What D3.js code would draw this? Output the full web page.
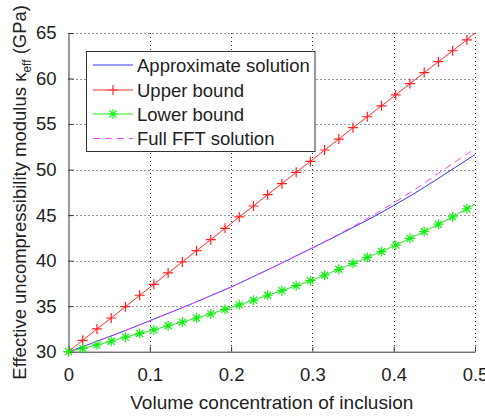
<!DOCTYPE html>
<html><head><meta charset="utf-8">
<script src="https://cdn.jsdelivr.net/npm/d3@7"></script>
<style>
body{margin:0;background:#fff;}
text{font-family:"Liberation Sans",Arial,sans-serif;fill:#222;}
</style></head>
<body><svg id="c" width="485" height="420"></svg>
<script>
// ---- data ----
const boundX = [0,0.0175,0.035,0.0525,0.07,0.0875,0.105,0.1225,0.14,0.1575,0.175,0.1925,0.21,0.2275,0.245,0.2625,0.28,0.2975,0.315,0.3325,0.35,0.3675,0.385,0.4025,0.42,0.4375,0.455,0.4725,0.49,0.5];
const upperBound = [30.0,31.25,32.5,33.7,34.95,36.2,37.4,38.65,39.85,41.1,42.3,43.55,44.8,46.0,47.25,48.45,49.7,50.9,52.15,53.35,54.6,55.8,57.0,58.2,59.45,60.65,61.85,63.05,64.25,65.0];
const lowerBound = [30.0,30.35,30.75,31.15,31.6,32.0,32.4,32.85,33.25,33.7,34.15,34.65,35.15,35.65,36.2,36.7,37.25,37.8,38.4,39.05,39.7,40.35,41.0,41.7,42.45,43.2,44.0,44.8,45.7,46.2];
const solX = [0,0.025,0.05,0.075,0.1,0.125,0.15,0.175,0.2,0.225,0.25,0.275,0.3,0.325,0.35,0.375,0.4,0.425,0.45,0.475,0.5];
const approxSol = [30.0,30.8,31.65,32.5,33.4,34.3,35.2,36.15,37.1,38.15,39.2,40.3,41.4,42.5,43.65,44.8,46.05,47.35,48.75,50.2,51.65];
const fftSol = [30.0,30.8,31.65,32.5,33.4,34.3,35.2,36.15,37.1,38.15,39.2,40.3,41.4,42.55,43.75,45.0,46.35,47.75,49.3,50.8,52.3];
const xTicks = [0,0.1,0.2,0.3,0.4,0.5];
const xTickLabels = ["0","0.1","0.2","0.3","0.4","0.5"];
const yTicks = [30,35,40,45,50,55,60,65];
const legendLabels = ["Approximate solution","Upper bound","Lower bound","Full FFT solution"];

const svg = d3.select("#c");
const L=68.5, R=475, T=33, B=351.7;
const x = d3.scaleLinear().domain([0,0.5]).range([L,R]);
const y = d3.scaleLinear().domain([30,65]).range([B,T]);
const FS = 18.5;

// grid (dotted)
const grid = svg.append("g").attr("stroke","#333").attr("stroke-width",1).attr("stroke-dasharray","1,3");
grid.selectAll("line.v").data(xTicks.slice(1)).join("line")
  .attr("x1",d=>Math.round(x(d))+0.5).attr("x2",d=>Math.round(x(d))+0.5).attr("y1",T).attr("y2",B);
grid.selectAll("line.h").data(yTicks.slice(1)).join("line")
  .attr("y1",d=>Math.round(y(d))+0.5).attr("y2",d=>Math.round(y(d))+0.5).attr("x1",L).attr("x2",R);

// axes
const xAxis = d3.axisBottom(x).tickValues(xTicks).tickFormat((d,i)=>xTickLabels[i]).tickSizeInner(-5).tickSizeOuter(0).tickPadding(16);
const gx = svg.append("g").attr("transform",`translate(0,${B})`).call(xAxis);
const yAxis = d3.axisLeft(y).tickValues(yTicks).tickSizeInner(-5).tickSizeOuter(0).tickPadding(12);
const gy = svg.append("g").attr("transform",`translate(${L},0)`).call(yAxis);
[gx,gy].forEach(g=>{
  g.select(".domain").attr("stroke","#333");
  g.selectAll(".tick line").attr("stroke","#333");
  g.selectAll("text").attr("font-size",FS).attr("font-family","Liberation Sans, Arial, sans-serif").attr("fill","#222");
});

// lines
const lineB = d3.line().x((d,i)=>x(boundX[i])).y(d=>y(d));
const lineS = d3.line().x((d,i)=>x(solX[i])).y(d=>y(d));
svg.append("path").attr("d",lineS(approxSol)).attr("fill","none").attr("stroke","#3333ff").attr("stroke-width",1);
svg.append("path").attr("d",lineB(upperBound)).attr("fill","none").attr("stroke","#ff3030").attr("stroke-width",1);
svg.append("path").attr("d",lineB(lowerBound)).attr("fill","none").attr("stroke","#22ee22").attr("stroke-width",1);
svg.append("path").attr("d",lineS(fftSol)).attr("fill","none").attr("stroke","#ff44ff").attr("stroke-width",1).attr("stroke-dasharray","7,5");

// markers
const M = 5;
function plusPath(){return `M${-M},0H${M}M0,${-M}V${M}`;}
function starPath(){const m=M*0.7;return `M${-M},0H${M}M0,${-M}V${M}M${-m},${-m}L${m},${m}M${-m},${m}L${m},${-m}`;}
const mk = boundX.slice(0,boundX.length-1);
svg.append("g").selectAll("path").data(mk).join("path")
  .attr("transform",(d,i)=>`translate(${x(d)},${y(upperBound[i])})`).attr("d",plusPath()).attr("stroke","#ff2020").attr("fill","none").attr("stroke-width",1.2);
svg.append("g").selectAll("path").data(mk).join("path")
  .attr("transform",(d,i)=>`translate(${x(d)},${y(lowerBound[i])})`).attr("d",starPath()).attr("stroke","#11ee11").attr("fill","none").attr("stroke-width",1.2);

// legend
const lg = svg.append("g");
lg.append("rect").attr("x",86.5).attr("y",51.5).attr("width",228.5).attr("height",100).attr("fill","#fff").attr("stroke","#333").attr("stroke-width",1);
const rowsY = [65,90,114,138.5];
const styles = [
  {c:"#3333ff",dash:null,mark:null},
  {c:"#ff3030",dash:null,mark:"plus"},
  {c:"#22ee22",dash:null,mark:"star"},
  {c:"#ff44ff",dash:"7,5",mark:null}];
legendLabels.forEach((lab,i)=>{
  const s=styles[i], yy=rowsY[i];
  const ln = lg.append("line").attr("x1",93).attr("x2",133).attr("y1",yy).attr("y2",yy).attr("stroke",s.c).attr("stroke-width",1);
  if(s.dash) ln.attr("stroke-dasharray",s.dash);
  if(s.mark) lg.append("path").attr("transform",`translate(113,${yy})`).attr("d",s.mark==="plus"?plusPath():starPath()).attr("stroke",s.c).attr("fill","none").attr("stroke-width",1.2);
  lg.append("text").attr("x",137).attr("y",yy).attr("dy","0.36em").attr("font-size",FS).text(lab);
});

// axis titles
svg.append("text").attr("x",(L+R)/2).attr("y",409).attr("text-anchor","middle").attr("font-size",19).text("Volume concentration of inclusion");
const yt = svg.append("text").attr("transform",`translate(26,${(T+B)/2}) rotate(-90)`).attr("text-anchor","middle").attr("font-size",FS);
yt.append("tspan").text("Effective uncompressibility modulus κ");
yt.append("tspan").attr("font-size",12).attr("dy",5).text("eff");
yt.append("tspan").attr("dy",-5).text(" (GPa)");
</script></body></html>
